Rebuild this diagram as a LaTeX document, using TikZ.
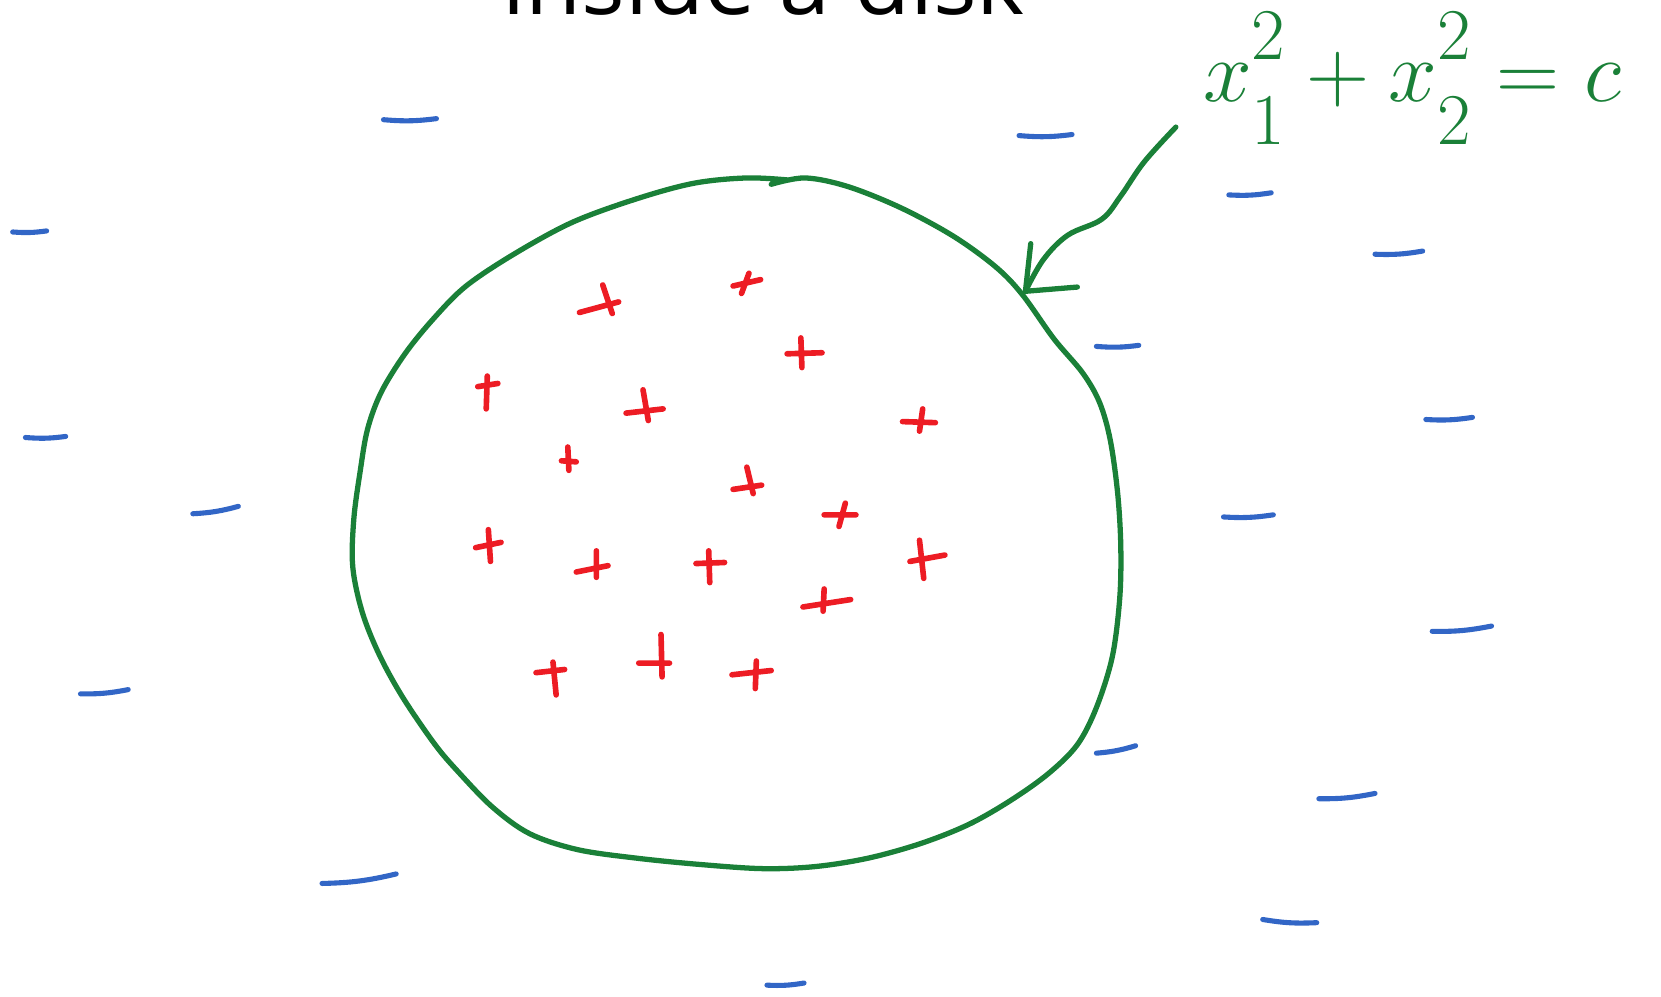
\documentclass[tikz,border=0pt]{standalone}
\usepackage{fontspec}
\usepackage{amsmath}
\usetikzlibrary{arrows.meta}
\newfontfamily\titlefont{Open Sans}
\definecolor{inkgreen}{RGB}{26,128,56}
\definecolor{inkred}{RGB}{237,28,36}
\definecolor{inkblue}{RGB}{50,102,198}
\newcommand{\up}[1]{\raisebox{3pt}{$\scriptstyle #1$}}
\newcommand{\dn}[1]{\raisebox{-6pt}{$\scriptstyle #1$}}

\begin{document}
\begin{tikzpicture}[x=0.010593cm, y=-0.010593cm,
  pen/.style={inkgreen, line width=1.5pt, line cap=round, line join=round},
  plusmark/.style={inkred, line width=1.6pt, line cap=round},
  minusmark/.style={inkblue, line width=1.45pt, line cap=round},
  eqn/.style={inkgreen, font=\fontsize{31}{34}\selectfont},
  heading/.style={font=\titlefont\fontsize{26}{30}\selectfont, anchor=base}]
\useasboundingbox (0,0) rectangle (1568,941);

% title, cut off at the top
\node[heading] (ttl) at (721,14) {inside a disk};

% the boundary
\draw[pen] plot[smooth, tension=0.55] coordinates {
  (728,174) (760,168) (800,176) (850,196) (900,223) (940,252) (965,278)
  (995,320) (1022,352) (1038,380) (1048,415) (1055,465) (1058,515)
  (1057,565) (1050,620) (1035,668) (1017,703) (990,730) (955,755)
  (915,778) (870,796) (820,810) (770,818) (720,820) (660,816) (600,810)
  (545,802) (500,787) (465,762) (432,728) (410,702) (380,658) (358,618)
  (342,578) (333,535) (334,490) (340,445) (347,405) (360,370) (383,333)
  (410,300) (440,270) (485,240) (540,210) (600,188) (655,173) (705,168)
  (745,170)};

% label and its arrow
\node[eqn] (eq) at (1333,74) {$x^{\up{2}}_{\dn{1}}+x^{\up{2}}_{\dn{2}}=c$};
\coordinate (tail) at (1110,120);
\coordinate (tip) at (968,275);
\draw[pen] plot[smooth, tension=0.6] coordinates {(tail) (1080,153) (1058,185) (1040,207) (1008,222) (985,245) (tip)};
\draw[pen] (tip) ++(5,-45) -- (tip) -- ++(49,-4);

% points inside
\foreach \ax/\ay/\bx/\by/\cx/\cy/\dx/\dy in {
  547/295/584/285/569/269/578/296,
  692/270/718/264/707/258/700/277,
  743/334/776/333/756/319/757/347,
  451/365/470/362/460/355/459/386,
  591/390/626/386/607/368/612/397,
  852/398/883/399/871/386/868/407,
  530/435/544/436/536/422/537/444,
  692/462/719/458/705/441/711/466,
  778/486/808/486/798/475/792/497,
  449/517/473/512/461/500/463/530,
  544/540/574/534/563/520/563/545,
  657/532/684/531/669/520/670/550,
  859/530/892/524/868/510/872/546,
  758/573/803/566/778/556/777/577,
  506/635/533/632/522/625/525/656,
  603/626/632/626/624/599/625/639,
  691/637/728/633/714/624/713/650}
  \draw[plusmark] (\ax,\ay) -- (\bx,\by) (\cx,\cy) -- (\dx,\dy);

% points outside
\foreach \ax/\ay/\bx/\by in {
  362/113/412/112, 12/219/44/218, 962/128/1012/127, 1160/184/1200/182,
  1298/240/1343/237, 1035/327/1075/326, 24/413/62/412, 1346/396/1390/394,
  182/485/225/478, 1155/488/1202/486, 1352/596/1408/591, 76/655/121/651,
  1035/711/1072/704, 1245/754/1298/749, 304/834/374/825, 1192/868/1243/871,
  724/930/759/928}
  \draw[minusmark] (\ax,\ay) to[bend right=6] (\bx,\by);
\end{tikzpicture}
\end{document}
